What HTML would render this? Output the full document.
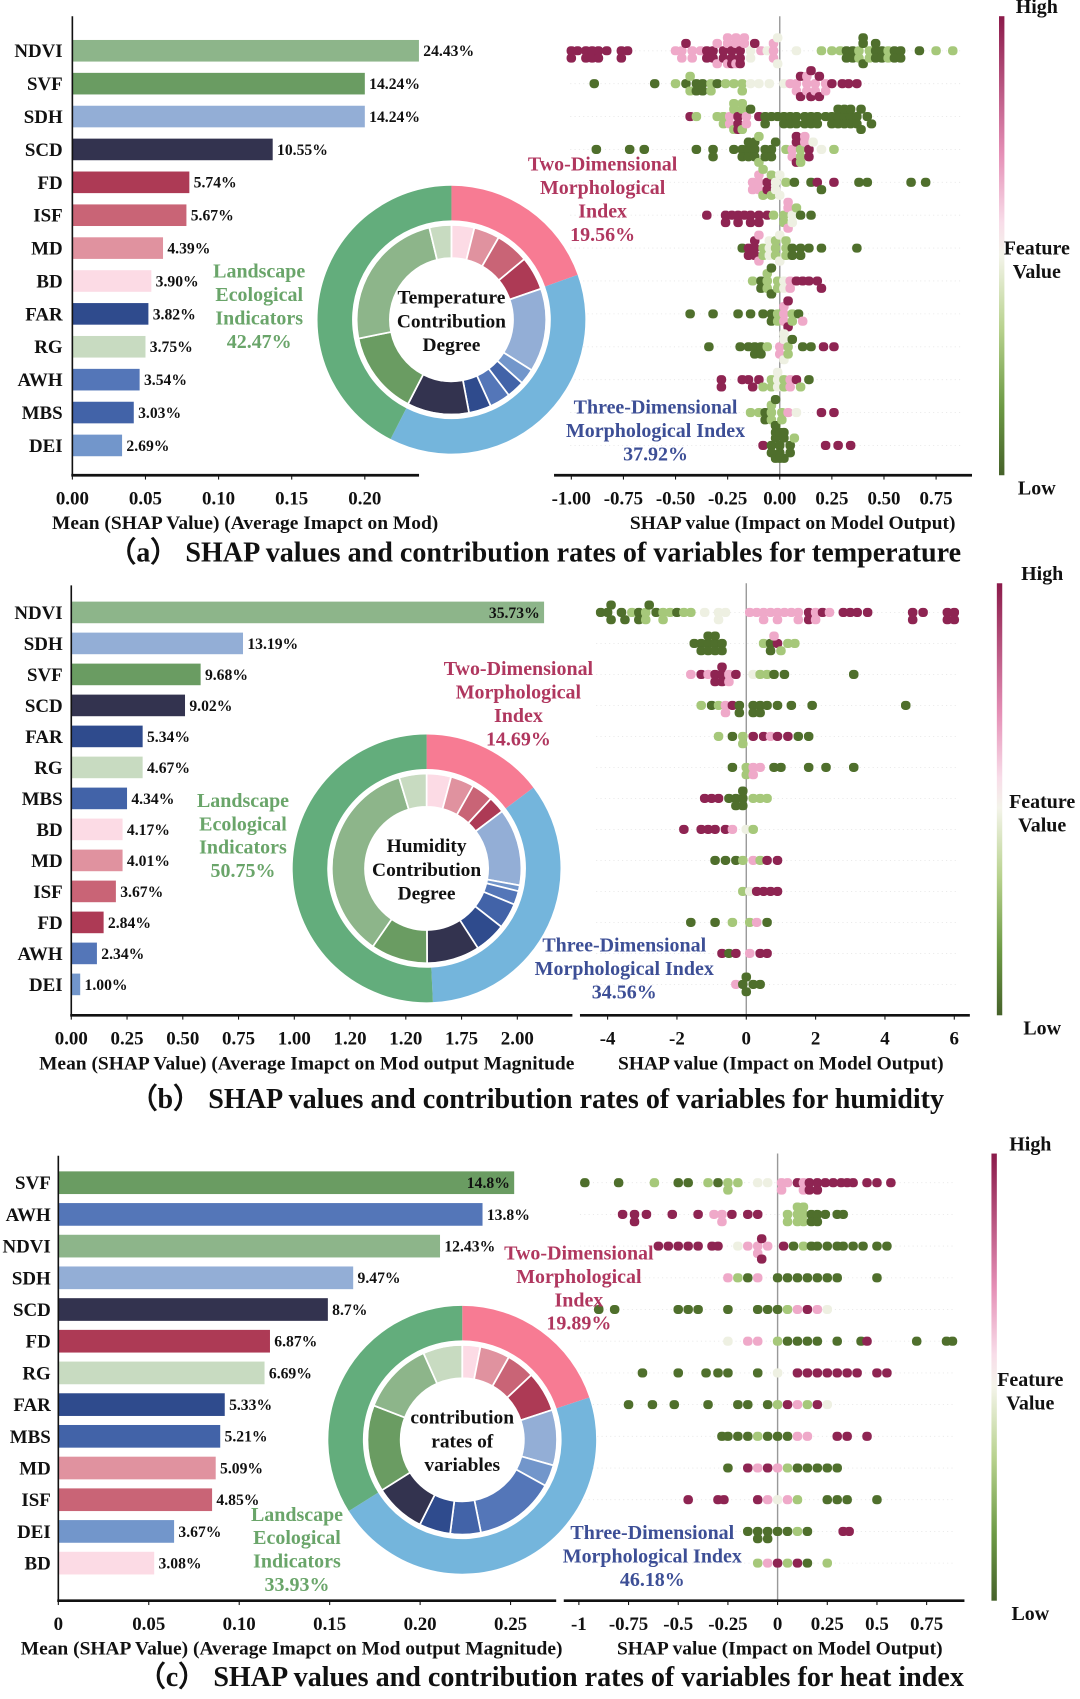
<!DOCTYPE html>
<html><head><meta charset="utf-8">
<style>
html,body{margin:0;padding:0;background:#fff;}
svg{display:block;font-family:"Liberation Serif",serif;font-weight:bold;}
</style></head>
<body>
<svg id="fig" xmlns="http://www.w3.org/2000/svg" width="1080" height="1699" viewBox="0 0 1000 1573" preserveAspectRatio="none">
<defs>
<linearGradient id="cbar" x1="0" y1="0" x2="0" y2="1">
<stop offset="0" stop-color="#8b1a4a"/><stop offset="0.3" stop-color="#e58fb6"/><stop offset="0.45" stop-color="#f8dde9"/>
<stop offset="0.52" stop-color="#f4f4ea"/><stop offset="0.68" stop-color="#b8d28e"/><stop offset="0.85" stop-color="#6d9a45"/><stop offset="1" stop-color="#46622a"/>
</linearGradient>
</defs>
</svg>
<script>
// ---------- Panel (a) data ----------
const aCats=["NDVI","SVF","SDH","SCD","FD","ISF","MD","BD","FAR","RG","AWH","MBS","DEI"];
const aVals=[0.237,0.200,0.200,0.137,0.080,0.078,0.062,0.054,0.052,0.050,0.046,0.042,0.034];
const aPcts=["24.43%","14.24%","14.24%","10.55%","5.74%","5.67%","4.39%","3.90%","3.82%","3.75%","3.54%","3.03%","2.69%"];
const aTicks=[0,0.05,0.10,0.15,0.20];
const aTickLabels=["0.00","0.05","0.10","0.15","0.20"];
const aGroups=[19.56,37.92,42.47];
const aInnerCats=["BD","MD","ISF","FD","SDH","DEI","MBS","AWH","FAR","SCD","SVF","NDVI","RG"];
const aInnerVals=[3.90,4.39,5.67,5.74,14.24,2.69,3.03,3.54,3.82,10.55,14.24,24.43,3.75];
const aShapTicks=[-1,-0.75,-0.5,-0.25,0,0.25,0.5,0.75];
const aShapTickLabels=["-1.00","-0.75","-0.50","-0.25","0.00","0.25","0.50","0.75"];
const aSwarm=[
"-1m2 -.97m -.93m2 -.9m2 -.87m2 -.83m -.76m2 -.73m -.5p -.47p2 -.45m -.42p2 -.38p -.35m2 -.32m2 -.3p2 -.27m2 -.25p3 -.23m3 -.21p3 -.19m3 -.17p2 -.14w2 -.12m -.09p -.06w -.03p3 -.01w2 .08w .2l .25l .29l .32g2 .35g2 .38l2 .4g3 .43l2 .46g3 .49g2 .52l2 .55g2 .58g2 .67g .75l .83l",
"-.89g -.6g -.5l -.45g -.43l2 -.4g2 -.37g2 -.33l2 -.3g -.26l -.22l -.18l2 -.14w -.1w -.05w .02w .05p .08p2 .1m2 .13p3 .15m3 .17p2 .19m2 .22p2 .25m .3m .33m .37m",
"-.43m -.4l -.3l -.27l2 -.24p2 -.22l3 -.2m3 -.18l3 -.16p2 -.14g -.1m -.07g2 -.04g -.01g .02g2 .05g2 .08g2 .12g2 .15g2 .18g2 .22g .25g2 .28g3 .31g3 .34g3 .37g2 .39g2 .42g .44g",
"-.88g -.72g -.65g -.4g -.32g2 -.22g -.18g2 -.15g3 -.12g3 -.1l2 -.07g2 -.04g2 -.02g .03l .06p2 .08m3 .1l3 .12p2 .14m2 .16w .2w .26l",
"-.13p2 -.1p3 -.08l3 -.06m2 -.04l2 -.02w2 0w2 .03l .07g .15g .18m .2g .26m .38g .42g .63g .7g",
"-.35m -.26m2 -.23m -.2m2 -.17m -.14m2 -.1m2 -.06m -.03l .02l2 .04p3 .06w2 .08l .1g .15g",
"-.18g -.15m2 -.12m3 -.1p2 -.08l2 -.05w3 -.02l3 0w3 .03l3 .06g2 .1g2 .14g .2g .37g",
"-.13l -.09g2 -.06l3 -.04g3 -.01l2 .02w2 .05p2 .08m .11m .14m .18m .2m",
"-.43g -.32g -.2g -.14g -.08g -.04g2 -.01l2 .02p3 .04m2 .06l2 .09g .11p",
"-.34g -.19g -.15g -.12g2 -.09g2 -.06l 0p2 .02w3 .04l2 .06g .11g .15g .21m .26m",
"-.28m2 -.18m -.15m -.13m -.1m -.08l -.04l2 -.01w3 .02l2 .05p2 .08m .1l .14g",
"-.14l -.1l -.07g2 -.04l3 -.02g3 .01l2 .04p .08w .2m .26m",
"-.08m -.04g2 -.02g3 0g4 .02g3 .05g2 .07l .22m .28m .34m"];

// ---------- Panel (b) data ----------
const bCats=["NDVI","SDH","SVF","SCD","FAR","RG","MBS","BD","MD","ISF","FD","AWH","DEI"];
const bVals=[2.12,0.77,0.58,0.51,0.32,0.32,0.25,0.23,0.23,0.20,0.145,0.115,0.04];
const bPcts=["35.73%","13.19%","9.68%","9.02%","5.34%","4.67%","4.34%","4.17%","4.01%","3.67%","2.84%","2.34%","1.00%"];
const bTicks=[0,0.25,0.5,0.75,1.0,1.25,1.5,1.75,2.0];
const bTickLabels=["0.00","0.25","0.50","0.75","1.00","1.20","1.20","1.75","2.00"];
const bGroups=[14.69,34.56,50.75];
const bInnerCats=["BD","MD","ISF","FD","SDH","DEI","AWH","MBS","FAR","SCD","SVF","NDVI","RG"];
const bInnerVals=[4.17,4.01,3.67,2.84,13.19,1.00,2.34,4.34,5.34,9.02,9.68,35.73,4.67];
const bShapTicks=[-4,-2,0,2,4,6];
const bShapTickLabels=["-4","-2","0","2","4","6"];
const bSwarm=[
"-4.2g -4g -3.9g2 -3.6g -3.5g -3.3l -3.1g2 -2.9l2 -2.8g -2.6g -2.4l2 -2.2l -2g -1.8l -1.6l -1.2w -.8w2 -.6w .1p .3p .5p2 .7p .9p2 1.1p 1.3p 1.5p2 1.8m2 2p2 2.2m 2.4p 2.8m 3m 3.2m 3.5m 4.8m2 5.1m 5.8m2 6m2",
"-1.5g -1.3g2 -1.1g3 -.9g3 -.7g2 .5l .7g2 .9m .8p 1l 1.2l 1.4l",
"-1.6p -1.3m -1.1p -.9m2 -.7m3 -.5p2 -.3m .2w .4l .6l .8g 1.1g 3.1g",
"-1.3l -1g -.8l -.6p2 -.4m -.2g2 .2g2 .4g2 .6g .9g 1.3g 1.9g 4.6g",
"-.8l -.4g -.1l2 .2m .5m .7p .9m 1.2m 1.5g 1.8g",
"-.4g 0l2 .2p2 .4p .8g 1g 1.8g 2.3g 3.1g",
"-1.2m -1m -.8m -.5g -.3g2 -.1g3 .2l .4l .6l",
"-1.8m -1.3m -1.1m -.9m -.6m -.4p 0w .2l",
"-.9g -.6g -.3g -.1l .2p .4l .6m .9m",
"-.1l .1w .3m .5m .7m .9m",
"-1.6g -.9g -.4l .1l .3p .6g",
"-.7m -.5g -.3m .1p .4m .6m",
"-.3p -.1g 0g2 .2g .4g"];

// ---------- Panel (c) data ----------
const cCats=["SVF","AWH","NDVI","SDH","SCD","FD","RG","FAR","MBS","MD","ISF","DEI","BD"];
const cVals=[0.252,0.2345,0.211,0.163,0.149,0.117,0.114,0.092,0.0895,0.087,0.085,0.064,0.053];
const cPcts=["14.8%","13.8%","12.43%","9.47%","8.7%","6.87%","6.69%","5.33%","5.21%","5.09%","4.85%","3.67%","3.08%"];
const cTicks=[0,0.05,0.10,0.15,0.20,0.25];
const cTickLabels=["0","0.05","0.10","0.15","0.20","0.25"];
const cGroups=[19.89,46.18,33.93];
const cInnerCats=["BD","MD","ISF","FD","SDH","DEI","AWH","MBS","FAR","SCD","SVF","NDVI","RG"];
const cInnerVals=[3.08,5.09,4.85,6.87,9.47,3.67,13.8,5.21,5.33,8.7,14.8,12.43,6.69];
const cShapTicks=[-1,-0.75,-0.5,-0.25,0,0.25,0.5,0.75];
const cShapTickLabels=["-1","-0.75","-0.5","-0.25","0","0.25","0.5","0.75"];
const cSwarm=[
"-.97g -.8g -.62l -.5g -.45g -.35l -.3g -.25l2 -.2l -.1w -.05w .02p2 .05p .1m .13p2 .16m2 .2m2 .24m .28m .32m .35m .38m .45m .5m .57m",
"-.78m -.72m2 -.66m -.53m -.4m -.32p -.28p2 -.23m -.15m -.1m .05l2 .1l3 .13l3 .17g2 .2g2 .24g .3g .33g",
"-.6m -.55m -.5m -.45m -.4m -.33m -.3m -.2w -.15p -.1p2 -.08m2 -.05p .03m .08g .13l .17g .2g .25g .3g .33g .38g .43g .5g .55g",
"-.25p -.2l -.15g -.1p 0g .05g .1g .15g .2g .25g .3g .5g",
"-.9g -.82g -.5g -.45g -.4g -.25g -.1g -.05g 0g .05l .1p .15m .2p .25w",
"-.25w -.15p -.1p 0l .05g .1g .15g .2g .3g .42g .45m .7g .85g .88g",
"-.68g -.5g -.36g -.3g -.25g -.1g 0w .1m .15m .2m .25m .3m .35m .4m .5m .55m",
"-.75g -.63g -.52g -.35g -.2g -.15g -.05g 0l .05m .1p .15l .2m .25w",
"-.28g -.25g -.2g -.15g -.1l -.05g 0g .05g .1p .15p .3m .35m .45m",
"-.25g -.15m -.1p -.05m 0p .05l .1g .15g .2g .25g .3g",
"-.45m -.3m -.27m -.1m -.05p 0w .05p .1l .25g .3g .35g .5g",
"-.15g -.1g2 -.05g2 0g .05g .1l .15g .33m .36m",
"-.1l -.05p 0m .05l .1m .15g .25l"];

// ---------- styling ----------
const catColor={NDVI:"#8db58a",SVF:"#6a9c62",SDH:"#93aed6",SCD:"#33334f",FD:"#ad3a55",ISF:"#c96476",MD:"#e0929f",BD:"#fcdbe5",FAR:"#2f4b8d",RG:"#c8dbc1",AWH:"#5476b8",MBS:"#4263a8",DEI:"#7296cb"};
const groupColors=["#f77b93","#74b5dc","#63ad7c"];
const dotColor={g:"#4f6f2c",l:"#a6c87a",w:"#eef0e2",p:"#efa9c9",m:"#8e2452"};
const NS="http://www.w3.org/2000/svg";
const svg=document.getElementById('fig');
function mk(tag,attrs,parent){const e=document.createElementNS(NS,tag);for(const k in attrs)e.setAttribute(k,attrs[k]);(parent||svg).appendChild(e);return e;}
function txt(s,x,y,size,anchor,fill,parent){const t=mk('text',{x:x,y:y,'font-size':size,'text-anchor':anchor||'middle',fill:fill||'#111'},parent);t.textContent=s;return t;}

function barChart(p){
  const g=mk('g',{});
  
  
  const xs=v=>p.x0+v*p.scale;
  p.cats.forEach((c,i)=>{
    const y=p.rowY(i);
    const r=mk('rect',{x:p.x0,y:y-p.bh/2,width:xs(p.vals[i])-p.x0,height:p.bh,fill:catColor[c]},g);
    
    
    const l=txt(c,p.labelX,y+6,17.5,'end','#111',g);
    
    
    const inside=(i===0&&p.firstInside);
    const v=txt(p.pcts[i],inside?xs(p.vals[i])-4:xs(p.vals[i])+4,y+5,14.5,inside?'end':'start','#111',g);
    
    
  });
  mk('line',{x1:p.x0,y1:p.yTop,x2:p.x0,y2:p.yAxis,stroke:'#111','stroke-width':1.5},g);
  mk('line',{x1:p.x0-1,y1:p.yAxis,x2:p.xEnd,y2:p.yAxis,stroke:'#111','stroke-width':2.5},g);
  p.ticks.forEach((t,i)=>{
    mk('line',{x1:xs(t),y1:p.yAxis,x2:xs(t),y2:p.yAxis+4,stroke:'#111','stroke-width':1},g);
    const tl=txt(p.tickLabels[i],xs(t),p.yAxis+27,17.5,'middle','#111',g);
    
    
  });
  const at=txt(p.title,p.titleX,p.yAxis+50,18,'middle','#111',g);
  
  
}

function arcPath(cx,cy,r0,r1,a0,a1){
  const f=(r,a)=>[cx+r*Math.sin(a),cy-r*Math.cos(a)];
  const large=(a1-a0)>Math.PI?1:0;
  const p1=f(r1,a0),p2=f(r1,a1),p3=f(r0,a1),p4=f(r0,a0);
  return `M${p1[0]},${p1[1]}A${r1},${r1} 0 ${large} 1 ${p2[0]},${p2[1]}L${p3[0]},${p3[1]}A${r0},${r0} 0 ${large} 0 ${p4[0]},${p4[1]}Z`;
}
function donut(p){
  const g=mk('g',{});
  
  
  const tot=p.groups.reduce((a,b)=>a+b,0);
  let a=0;
  const gn=['two-dimensional','three-dimensional','landscape'];
  p.groups.forEach((v,i)=>{
    const a1=a+v/tot*2*Math.PI;
    const s=mk('path',{d:arcPath(p.cx,p.cy,92,124,a,a1),fill:groupColors[i]},g);
    
    
    a=a1;
  });
  const itot=p.innerVals.reduce((x,y)=>x+y,0);
  a=0;
  p.innerCats.forEach((c,i)=>{
    const a1=a+p.innerVals[i]/itot*2*Math.PI;
    const s=mk('path',{d:arcPath(p.cx,p.cy,57,88,a,a1),fill:catColor[c],stroke:'#fff','stroke-width':1.6},g);
    
    
    a=a1;
  });
  mk('circle',{cx:p.cx,cy:p.cy,r:88,fill:'none',stroke:'#fff','stroke-width':2},g);
  p.center.forEach((s,i)=>{
    const t=txt(s,p.cx,p.cy-15+i*22,18,'middle','#111',g);
    
    
  });
}

function groupLabel(lines,x,y0,color,name){
  lines.forEach((s,i)=>{
    const t=txt(s,x,y0+i*21.7,18.5,'middle',color);
    
    
  });
}

function swarm(p){
  const g=mk('g',{});
  
  
  const xs=v=>p.zero+v*p.scale;
  p.rows.forEach((row,i)=>{
    const y=p.rowY(i);
    mk('line',{x1:p.xStart+15,y1:y,x2:p.xEnd-10,y2:y,stroke:'#e6e6e6','stroke-width':0.8,'stroke-dasharray':'1 3'},g);
  });
  mk('line',{x1:p.zero,y1:p.yTop,x2:p.zero,y2:p.yAxis,stroke:'#999','stroke-width':1.3},g);
  p.rows.forEach((row,i)=>{
    const y=p.rowY(i);
    const placed=[];
    row.trim().split(/\s+/).forEach(tok=>{
      const m=tok.match(/^([-\d.]+)([a-z])(\d*)$/);
      if(!m)return;
      const v=parseFloat(m[1]),code=m[2],n=m[3]?parseInt(m[3]):1;
      for(let k=0;k<n;k++){
        const x=xs(v);
        let off=0;
        for(let j=0;j<12;j++){
          const o=(j%2?1:-1)*Math.ceil(j/2)*3.4;
          if(placed.every(q=>Math.hypot(q[0]-x,q[1]-o)>=5.2)){off=o;break;}
          off=o;
        }
        off=Math.max(-12,Math.min(12,off));
        placed.push([x,off]);
        const d=mk('rect',{x:x-4.4,y:y+off-4.2,width:8.8,height:8.4,rx:3.6,fill:dotColor[code]},g);
        
        
      }
    });
  });
  mk('line',{x1:p.xStart,y1:p.yAxis,x2:p.xEnd,y2:p.yAxis,stroke:'#111','stroke-width':2.5},g);
  p.ticks.forEach((t,i)=>{
    mk('line',{x1:xs(t),y1:p.yAxis,x2:xs(t),y2:p.yAxis+4,stroke:'#111','stroke-width':1},g);
    const tl=txt(p.tickLabels[i],xs(t),p.yAxis+27,17.5,'middle','#111',g);
    
    
  });
  const at=txt('SHAP value (Impact on Model Output)',p.titleX,p.yAxis+50,18,'middle','#111',g);
  
  
  const cb=mk('rect',{x:p.cbX,y:p.yTop,width:5,height:p.yAxis-p.yTop,fill:'url(#cbar)'});
  
  
  const h=txt('High',p.cbTextX,p.yTop-3,18.5);
  
  
  const mid=(p.yTop+p.yAxis)/2;
  const f1=txt('Feature',p.cbTextX,mid+8,18.5);
  
  
  const f2=txt('Value',p.cbTextX,mid+30,18.5);
  
  
  const lo=txt('Low',p.cbTextX,p.yAxis+18,18.5);
  
  
}

function caption(s,x,y){const t=txt(s,x,y,26,'middle','#111');}

// ---------- Panel (a) ----------
barChart({id:'temperature',cats:aCats,vals:aVals,pcts:aPcts,x0:67,scale:1354,bh:20,rowY:i=>47+i*30.45,labelX:58,yTop:15,yAxis:440,xEnd:388,ticks:aTicks,tickLabels:aTickLabels,title:'Mean (SHAP Value) (Average Imapct on Mod)',titleX:227,firstInside:false});
swarm({id:'temperature',cats:aCats,rows:aSwarm,zero:722,scale:193,rowY:i=>47+i*30.45,yTop:15,yAxis:440,xStart:513,xEnd:900,ticks:aShapTicks,tickLabels:aShapTickLabels,titleX:734,cbX:925,cbTextX:960});
donut({id:'temperature',cx:418,cy:296,groups:aGroups,innerCats:aInnerCats,innerVals:aInnerVals,center:['Temperature','Contribution','Degree']});
groupLabel(['Two-Dimensional','Morphological','Index','19.56%'],558,158,'#b0375f','two-dimensional-label');
groupLabel(['Landscape','Ecological','Indicators','42.47%'],240,257,'#6aa56a','landscape-label');
groupLabel(['Three-Dimensional','Morphological Index','37.92%'],607,383,'#3d4f96','three-dimensional-label');
caption('（a） SHAP values and contribution rates of variables for temperature',495,520);

// ---------- Panel (b) ----------
barChart({id:'humidity',cats:bCats,vals:bVals,pcts:bPcts,x0:66,scale:206.5,bh:20,rowY:i=>567+i*28.7,labelX:58,yTop:542,yAxis:940,xEnd:530,ticks:bTicks,tickLabels:bTickLabels,title:'Mean (SHAP Value) (Average Imapct on Mod output Magnitude',titleX:284,firstInside:true});
swarm({id:'humidity',cats:bCats,rows:bSwarm,zero:691,scale:32.1,rowY:i=>567+i*28.7,yTop:540,yAxis:940,xStart:537,xEnd:898,ticks:bShapTicks,tickLabels:bShapTickLabels,titleX:723,cbX:923,cbTextX:965});
donut({id:'humidity',cx:395,cy:804,groups:bGroups,innerCats:bInnerCats,innerVals:bInnerVals,center:['Humidity','Contribution','Degree']});
groupLabel(['Two-Dimensional','Morphological','Index','14.69%'],480,625,'#b0375f','two-dimensional-label');
groupLabel(['Landscape','Ecological','Indicators','50.75%'],225,747,'#6aa56a','landscape-label');
groupLabel(['Three-Dimensional','Morphological Index','34.56%'],578,881,'#3d4f96','three-dimensional-label');
caption('（b） SHAP values and contribution rates of variables for humidity',497,1026);

// ---------- Panel (c) ----------
barChart({id:'heat-index',cats:cCats,vals:cVals,pcts:cPcts,x0:54,scale:1675,bh:21,rowY:i=>1095+i*29.35,labelX:47,yTop:1070,yAxis:1482,xEnd:515,ticks:cTicks,tickLabels:cTickLabels,title:'Mean (SHAP Value) (Average Imapct on Mod output Magnitude)',titleX:270,firstInside:true});
swarm({id:'heat-index',cats:cCats,rows:cSwarm,zero:720,scale:184,rowY:i=>1095+i*29.35,yTop:1068,yAxis:1482,xStart:522,xEnd:893,ticks:cShapTicks,tickLabels:cShapTickLabels,titleX:722,cbX:918,cbTextX:954});
donut({id:'heat-index',cx:428,cy:1333,groups:cGroups,innerCats:cInnerCats,innerVals:cInnerVals,center:['contribution','rates of','variables']});
groupLabel(['Two-Dimensional','Morphological','Index','19.89%'],536,1166,'#b0375f','two-dimensional-label');
groupLabel(['Landscape','Ecological','Indicators','33.93%'],275,1408,'#6aa56a','landscape-label');
groupLabel(['Three-Dimensional','Morphological Index','46.18%'],604,1425,'#3d4f96','three-dimensional-label');
caption('（c） SHAP values and contribution rates of variables for heat index',510,1561);
</script>
</body></html>
